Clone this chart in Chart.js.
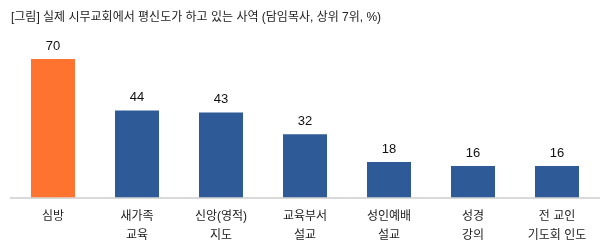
<!DOCTYPE html>
<html>
<head>
<meta charset="utf-8">
<script src="https://cdn.jsdelivr.net/npm/chart.js@4"></script>
<style>
  html, body { margin: 0; padding: 0; background: #fff; }
  .wrap { width: 607px; height: 251px; position: relative; }
</style>
</head>
<body>
<div class="wrap"><canvas id="chart"></canvas></div>
<script>
const titleText = '[그림] 실제 시무교회에서 평신도가 하고 있는 사역 (담임목사, 상위 7위, %)';
const categories = [['심방'], ['새가족', '교육'], ['신앙(영적)', '지도'], ['교육부서', '설교'], ['성인예배', '설교'], ['성경', '강의'], ['전 교인', '기도회 인도']];
const values = [70, 44, 43, 32, 18, 16, 16];
const barColors = ['#FF7331', '#2E5B98', '#2E5B98', '#2E5B98', '#2E5B98', '#2E5B98', '#2E5B98'];

const FONT = "'Liberation Sans', 'Noto Sans CJK KR', sans-serif";

// value labels above bars
const valueLabels = {
  id: 'valueLabels',
  afterDatasetsDraw(chart) {
    const { ctx } = chart;
    const meta = chart.getDatasetMeta(0);
    ctx.save();
    ctx.font = '13px ' + FONT;
    ctx.fillStyle = '#111';
    ctx.textAlign = 'center';
    ctx.textBaseline = 'alphabetic';
    meta.data.forEach((bar, i) => {
      ctx.fillText(values[i], bar.x, bar.y - 9);
    });
    ctx.restore();
  }
};

new Chart(document.getElementById('chart'), {
  type: 'bar',
  data: {
    labels: categories,
    datasets: [{ data: values, backgroundColor: barColors, borderWidth: 0, barPercentage: 0.524, categoryPercentage: 1 }]
  },
  options: {
    responsive: true, maintainAspectRatio: false, animation: false,
    layout: { padding: { left: 11, right: 8, top: 0, bottom: -3 } },
    plugins: {
      legend: { display: false },
      tooltip: { enabled: false },
      title: {
        display: true, text: titleText, align: 'start', color: '#222',
        font: { family: FONT, size: 12, weight: 'normal', lineHeight: 1.2 },
        padding: { top: 10, bottom: 34.6 }
      }
    },
    scales: {
      y: { display: false, min: 0, max: 70 },
      x: {
        grid: { display: false, drawTicks: false },
        border: { display: true, color: '#d9d9d9', width: 2 },
        ticks: { color: '#222', padding: 9, maxRotation: 0, autoSkip: false, font: { family: FONT, size: 12, lineHeight: 1.6 } }
      }
    }
  },
  plugins: [valueLabels]
});
</script>
</body>
</html>
